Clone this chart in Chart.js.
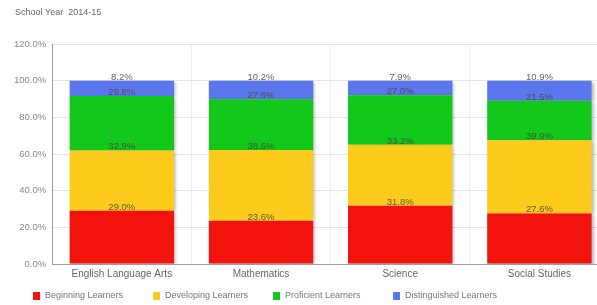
<!DOCTYPE html>
<html>
<head>
<meta charset="utf-8">
<script src="https://cdn.jsdelivr.net/npm/chart.js@4"></script>
<style>
  html, body { margin: 0; padding: 0; background: #fff; overflow: hidden; }
  #wrap { width: 614px; height: 305px; position: relative; }
</style>
</head>
<body>
<div id="wrap"><canvas id="chart"></canvas></div>
<script>
// === Chart data ===
var subjects = ['English Language Arts', 'Mathematics', 'Science', 'Social Studies'];
var beginning = [29.0, 23.6, 31.8, 27.6];
var developing = [32.9, 38.6, 33.2, 39.9];
var proficient = [29.8, 27.6, 27.0, 21.5];
var distinguished = [8.2, 10.2, 7.9, 10.9];
var yTicks = [0, 20, 40, 60, 80, 100, 120];
var titleText = 'School Year  2014-15';

var FONT = "'Liberation Sans', Arial, sans-serif";

// title top-left, bar shadow, and value labels at the top edge of each segment
var extras = {
    id: 'extras',
    beforeDraw: function(chart) {
        var ctx = chart.ctx;
        ctx.save();
        ctx.font = '9px ' + FONT;
        ctx.fillStyle = '#666';
        ctx.textBaseline = 'middle';
        ctx.fillText(titleText, 15, 13);
        ctx.restore();
    },
    beforeDatasetsDraw: function(chart) {
        var ctx = chart.ctx;
        ctx.save();
        ctx.shadowColor = 'rgba(0,0,0,0.28)';
        ctx.shadowBlur = 3;
        ctx.shadowOffsetX = 2;
        ctx.shadowOffsetY = 1;
    },
    afterDatasetsDraw: function(chart) {
        var ctx = chart.ctx;
        ctx.restore();
        ctx.save();
        ctx.font = '9.5px ' + FONT;
        ctx.textAlign = 'center';
        ctx.textBaseline = 'bottom';
        ctx.fillStyle = 'rgba(70,70,60,0.85)';
        chart.data.datasets.forEach(function(ds, i) {
            chart.getDatasetMeta(i).data.forEach(function(bar, j) {
                ctx.fillText(ds.data[j].toFixed(1) + '%', bar.x, bar.y + 1);
            });
        });
        ctx.restore();
    },
    afterDraw: function(chart) {
        // legend row at bottom, fixed-width slots like the reference
        var ctx = chart.ctx;
        ctx.save();
        ctx.font = '9px ' + FONT;
        ctx.textBaseline = 'middle';
        var x = 33, y = 296;
        chart.data.datasets.forEach(function(ds) {
            ctx.fillStyle = ds.backgroundColor;
            ctx.fillRect(x, y - 4, 7, 8);
            ctx.fillStyle = '#777';
            ctx.fillText(ds.label, x + 12, y);
            x += 120;
        });
        ctx.restore();
    }
};

var ctx = document.getElementById('chart').getContext('2d');
new Chart(ctx, {
    type: 'bar',
    data: {
        labels: subjects,
        datasets: [
            { label: 'Beginning Learners', data: beginning, backgroundColor: '#f2140c' },
            { label: 'Developing Learners', data: developing, backgroundColor: '#fccb1c' },
            { label: 'Proficient Learners', data: proficient, backgroundColor: '#12c81a' },
            { label: 'Distinguished Learners', data: distinguished, backgroundColor: '#5b77ee' }
        ]
    },
    options: {
        responsive: true,
        maintainAspectRatio: false,
        animation: false,
        layout: { padding: { left: 8, right: 5, top: 44, bottom: 21 } },
        datasets: { bar: { categoryPercentage: 0.75, barPercentage: 1.0, borderWidth: 0 } },
        plugins: {
            title: { display: false },
            legend: { display: false },
            tooltip: { enabled: false }
        },
        scales: {
            x: {
                stacked: true,
                grid: { color: '#eeeeee', drawTicks: false },
                border: { color: '#9a9ca6' },
                ticks: { color: '#666', font: { family: FONT, size: 10 }, padding: 4 }
            },
            y: {
                stacked: true,
                min: 0,
                max: 120,
                afterBuildTicks: function(axis) {
                    axis.ticks = yTicks.map(function(v) { return { value: v }; });
                },
                grid: { color: '#e4e4e4', drawTicks: false },
                border: { color: '#9a9ca6' },
                ticks: {
                    color: '#888',
                    font: { family: FONT, size: 9.5 },
                    padding: 6,
                    callback: function(v) { return v.toFixed(1) + '%'; }
                }
            }
        }
    },
    plugins: [extras]
});
</script>
</body>
</html>
